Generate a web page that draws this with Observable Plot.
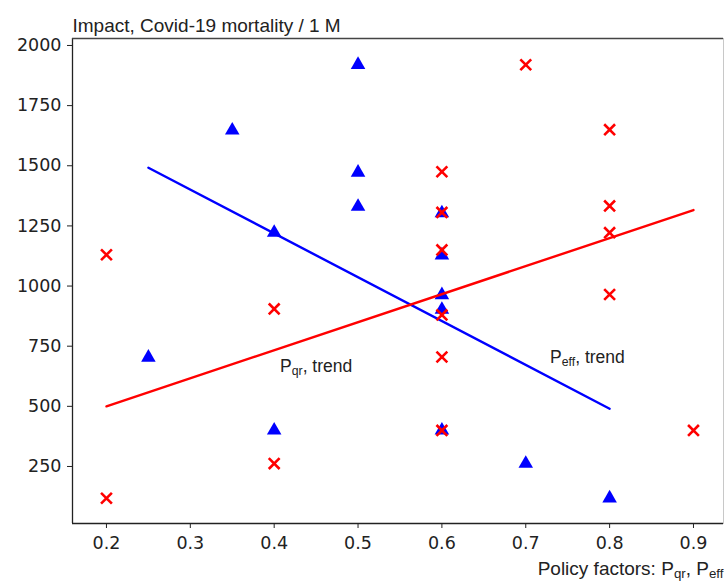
<!DOCTYPE html>
<html>
<head>
<meta charset="utf-8">
<script src="https://cdn.jsdelivr.net/npm/d3@7"></script>
<script src="https://cdn.jsdelivr.net/npm/@observablehq/plot@0.6"></script>
<style>
  html, body { margin: 0; padding: 0; background: #fff; overflow: hidden; }
</style>
</head>
<body>
<div id="chart"></div>
<script>
// ---- data ----
// P_eff (blue triangles)
const effX = [0.25, 0.35, 0.4, 0.4, 0.5, 0.5, 0.5, 0.6, 0.6, 0.6, 0.6, 0.6, 0.7, 0.8];
const effY = [703, 1647, 1222, 400, 1920, 1472, 1330, 1303, 1128, 963, 902, 400, 262, 118];
// P_qr (red crosses)
const qrX = [0.2, 0.2, 0.4, 0.4, 0.6, 0.6, 0.6, 0.6, 0.6, 0.6, 0.7, 0.8, 0.8, 0.8, 0.8, 0.9];
const qrY = [1130, 118, 905, 262, 1475, 1306, 1150, 880, 705, 400, 1920, 1650, 1333, 1222, 965, 400];
// trend lines (end points)
const effTrendX = [0.25, 0.8];
const effTrendY = [1492, 490];
const qrTrendX = [0.2, 0.9];
const qrTrendY = [500, 1316];
// annotations
const noteText = ["Pqr, trend", "Peff, trend"];
const noteX = [0.407, 0.729];
const noteY = [666, 703];
// axis ticks
const xTicks = [0.2, 0.3, 0.4, 0.5, 0.6, 0.7, 0.8, 0.9];
const yTicks = [250, 500, 750, 1000, 1250, 1500, 1750, 2000];
const titleText = "Impact, Covid-19 mortality / 1 M";
const xLabelText = "Policy factors: Pqr, Peff";

const xDomain = [0.1595, 0.9358];
const yDomain = [13, 2029];

const eff = effX.map((x, i) => ({x, y: effY[i]}));
const qr = qrX.map((x, i) => ({x, y: qrY[i]}));
const effTrend = effTrendX.map((x, i) => ({x, y: effTrendY[i]}));
const qrTrend = qrTrendX.map((x, i) => ({x, y: qrTrendY[i]}));
const notes = noteText.map((t, i) => ({t, x: noteX[i], y: noteY[i]}));

const sans = "Liberation Sans, Arial, sans-serif";
const tickFont = "DejaVu Sans, sans-serif";

const plot = Plot.plot({
  width: 725,
  height: 583,
  marginTop: 38,
  marginLeft: 72,
  marginRight: 2,
  marginBottom: 60,
  style: {background: "#fff", color: "#222", fontFamily: tickFont},
  x: {domain: xDomain},
  y: {domain: yDomain},
  marks: [
    Plot.frame({stroke: "#c8c8c8"}),
    Plot.ruleX([xDomain[0]], {stroke: "#222", strokeWidth: 1.3}),
    Plot.ruleY([yDomain[0]], {stroke: "#222", strokeWidth: 1.3}),
    Plot.ruleY([yDomain[1]], {stroke: "#444", strokeWidth: 1.3}),
    Plot.axisX({ticks: xTicks, tickSize: 5, tickPadding: 8, fontSize: 17.5, label: null, tickFormat: d3.format(".1f"), fontFamily: tickFont}),
    Plot.axisY({ticks: yTicks, tickSize: 5, tickPadding: 6, fontSize: 17.5, label: null, tickFormat: d => String(d), fontFamily: tickFont}),
    Plot.dot(eff, {x: "x", y: "y", symbol: "triangle", fill: "#0000ff", r: 5.4}),
    Plot.line(effTrend, {x: "x", y: "y", stroke: "#0000ff", strokeWidth: 2.4}),
    Plot.line(qrTrend, {x: "x", y: "y", stroke: "#ff0000", strokeWidth: 2.4}),
    Plot.dot(qr, {x: "x", y: "y", symbol: "times", stroke: "#ff0000", strokeWidth: 2.6, r: 5}),
    Plot.text(notes, {x: "x", y: "y", text: "t", textAnchor: "start", fontSize: 17.5, fontFamily: sans, fill: "#222", className: "sublbl"}),
    Plot.text([titleText], {frameAnchor: "top-left", text: d => d, textAnchor: "start", lineAnchor: "bottom", dy: -7, fontSize: 19, fontFamily: sans, fill: "#222"}),
    Plot.text([xLabelText], {frameAnchor: "bottom-right", text: d => d, textAnchor: "end", lineAnchor: "bottom", dy: 51, dx: 0, fontSize: 19, fontFamily: sans, fill: "#222", className: "sublbl"})
  ]
});

document.getElementById("chart").appendChild(plot);

// render subscripts (P_qr, P_eff) as real tspans
d3.select(plot).selectAll(".sublbl text").each(function () {
  const el = d3.select(this);
  const s = this.textContent;
  el.text(null);
  const parts = s.split(/P(qr|eff)/);
  let afterSub = false;
  parts.forEach((p, i) => {
    if (i % 2 === 0) {
      if (p) {
        const t = el.append("tspan").text(p);
        if (afterSub) t.attr("dy", "-3");
      }
      afterSub = false;
    } else {
      el.append("tspan").text("P");
      el.append("tspan").attr("font-size", "70%").attr("dy", "3").text(p);
      afterSub = true;
    }
  });
});
</script>
</body>
</html>
